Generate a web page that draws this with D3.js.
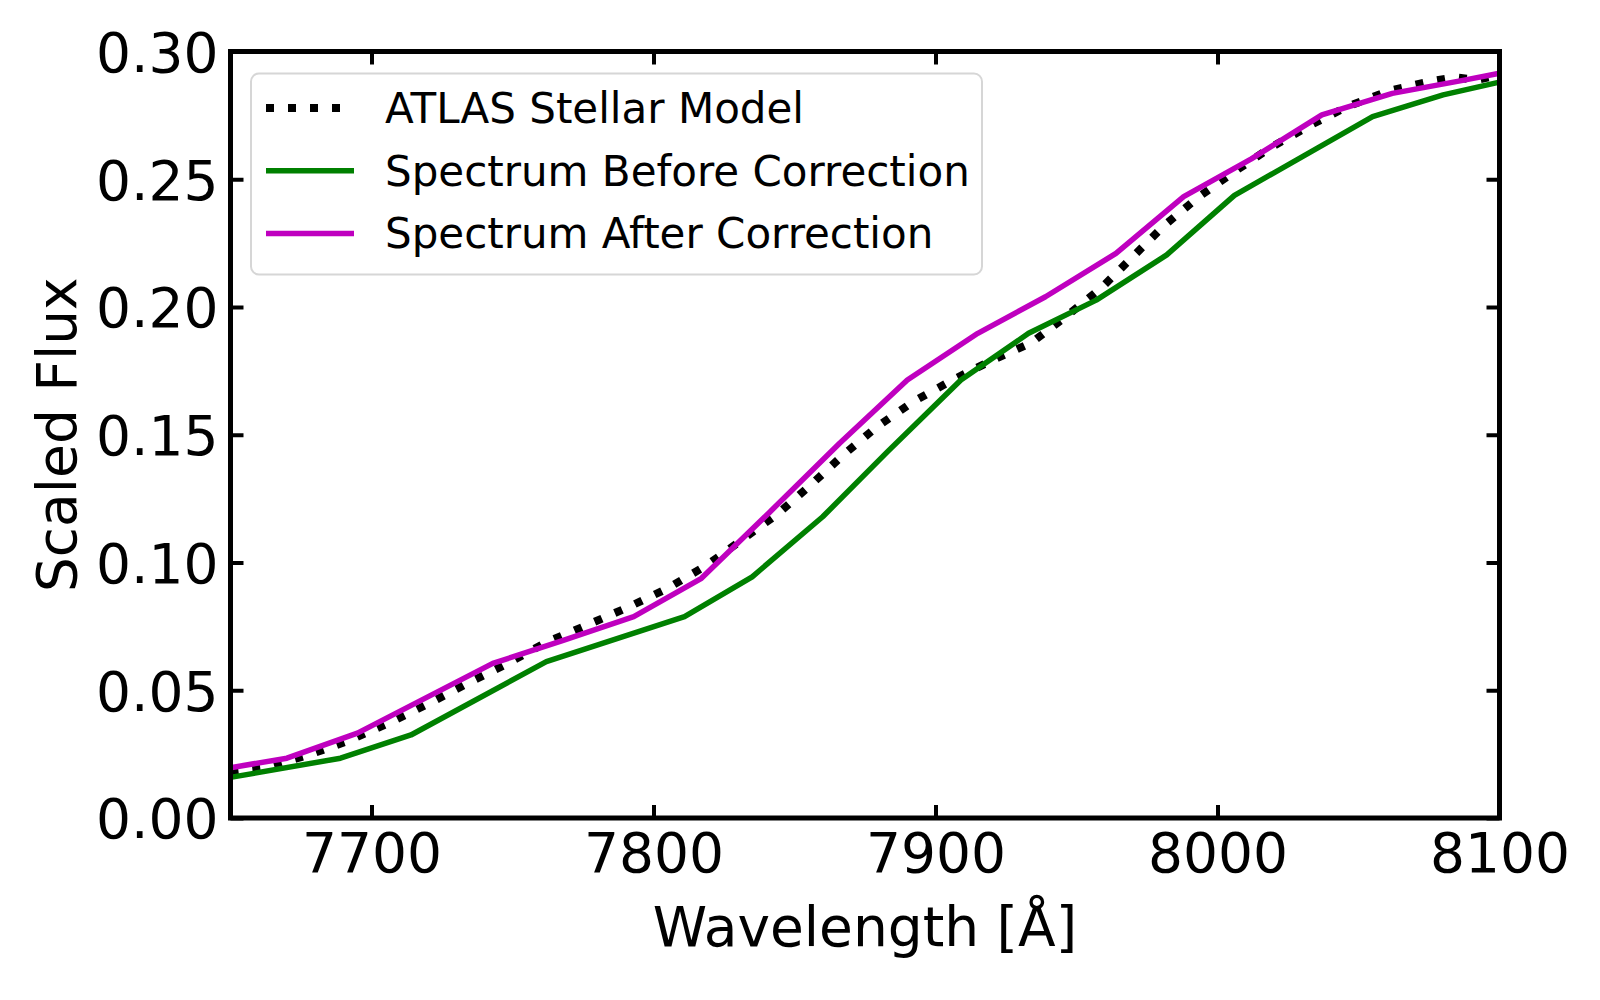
<!DOCTYPE html>
<html>
<head>
<meta charset="utf-8">
<script src="https://cdn.jsdelivr.net/npm/d3@7"></script>
<style>
  html, body { margin: 0; padding: 0; background: #fff; }
  svg { display: block; }
  svg text { font-family: "DejaVu Sans", sans-serif; }
</style>
</head>
<body>
<div id="chart"></div>
<script>
// Wavelength [Å] / scaled flux.
const modelWave = [7650, 7662, 7677, 7692, 7706, 7720, 7734, 7748, 7762, 7776, 7791, 7805, 7819, 7831,
  7844, 7856, 7867, 7879, 7892, 7906, 7919, 7934, 7947, 7959, 7970, 7981, 7993, 8006, 8019, 8033,
  8046, 8061, 8076, 8084, 8092, 8100];
const modelFlux = [0.0181, 0.0198, 0.0244, 0.0303, 0.0371, 0.0446, 0.0527, 0.0603, 0.0688, 0.0753,
  0.0825, 0.0899, 0.0990, 0.1086, 0.1190, 0.1306, 0.1418, 0.1529, 0.1629, 0.1714, 0.1786, 0.1860,
  0.1969, 0.2077, 0.2197, 0.2318, 0.2428, 0.2530, 0.2625, 0.2712, 0.2784, 0.2847, 0.2884, 0.2899,
  0.2889, 0.2908];

const beforeWave = [7650, 7689, 7714, 7762, 7811, 7835, 7860, 7883, 7909, 7933, 7957, 7982, 8006,
  8055, 8080, 8100];
const beforeFlux = [0.0159, 0.0234, 0.0325, 0.0612, 0.0788, 0.0944, 0.1179, 0.1434, 0.1714, 0.1897,
  0.2027, 0.2204, 0.2437, 0.2745, 0.2830, 0.2880];

const afterWave = [7650, 7670, 7695, 7743, 7768, 7793, 7817, 7841, 7866, 7890, 7915, 7939, 7964,
  7988, 8012, 8037, 8062, 8087, 8100];
const afterFlux = [0.0197, 0.0234, 0.0332, 0.0605, 0.0695, 0.0788, 0.0938, 0.1195, 0.1467, 0.1714,
  0.1897, 0.2040, 0.2210, 0.2432, 0.2580, 0.2752, 0.2836, 0.2887, 0.2915];

const xTicks = [7700, 7800, 7900, 8000, 8100];
const yTicks = [0, 0.05, 0.10, 0.15, 0.20, 0.25, 0.30];

const seriesNames = ["ATLAS Stellar Model", "Spectrum Before Correction", "Spectrum After Correction"];

(() => {
  "use strict";

  const W = 1600, H = 1000;
  const m = { left: 230.5, right: 100.5, top: 51.5, bottom: 182 };
  const iw = W - m.left - m.right;
  const ih = H - m.top - m.bottom;
  const FONT = 55;
  const FAMILY = '"DejaVu Sans", sans-serif';

  const series = [
    { name: seriesNames[0], wave: modelWave, flux: modelFlux, color: "#000", width: 8, dash: "8 14" },
    { name: seriesNames[1], wave: beforeWave, flux: beforeFlux, color: "#008000", width: 5.5, dash: null },
    { name: seriesNames[2], wave: afterWave, flux: afterFlux, color: "#bf00bf", width: 5.5, dash: null },
  ];

  const x = d3.scaleLinear().domain([7650, 8100]).range([0, iw]);
  const y = d3.scaleLinear().domain([0, 0.30]).range([ih, 0]);

  const svg = d3.select("#chart").append("svg").attr("width", W).attr("height", H);
  svg.append("defs").append("clipPath").attr("id", "plot-clip")
    .append("rect").attr("width", iw).attr("height", ih);

  const g = svg.append("g").attr("transform", `translate(${m.left},${m.top})`);

  // lines
  const line = d3.line().x((d) => x(d[0])).y((d) => y(d[1]));
  const plot = g.append("g").attr("clip-path", "url(#plot-clip)");
  series.forEach((s) => {
    plot.append("path")
      .datum(s.wave.map((w, i) => [w, s.flux[i]]))
      .attr("d", line)
      .attr("fill", "none")
      .attr("stroke", s.color)
      .attr("stroke-width", s.width)
      .attr("stroke-dasharray", s.dash)
      .attr("stroke-linejoin", "round");
  });

  // axes, ticks pointing inward on all four sides
  const TL = 13;
  const styleAxis = (sel) => {
    sel.attr("font-family", FAMILY).attr("font-size", FONT);
    sel.select(".domain").remove();
    sel.selectAll(".tick line").attr("stroke", "#000").attr("stroke-width", 4);
    sel.selectAll("text").attr("fill", "#000").style("font-size", FONT + "px").style("font-family", FAMILY);
  };

  g.append("g").attr("transform", `translate(0,${ih})`)
    .call(d3.axisBottom(x).tickValues(xTicks).tickFormat(d3.format("d")).tickSizeInner(-TL).tickSizeOuter(0))
    .call(styleAxis)
    .call((a) => a.selectAll("text").attr("y", 54).attr("dy", null));

  g.append("g")
    .call(d3.axisLeft(y).tickValues(yTicks).tickFormat(d3.format(".2f")).tickSizeInner(-TL).tickSizeOuter(0))
    .call(styleAxis)
    .call((a) => a.selectAll("text").attr("x", -12).attr("dy", "0.36em"));

  g.append("g")
    .call(d3.axisTop(x).tickValues(xTicks).tickFormat("").tickSizeInner(-TL).tickSizeOuter(0))
    .call(styleAxis);

  g.append("g").attr("transform", `translate(${iw},0)`)
    .call(d3.axisRight(y).tickValues(yTicks).tickFormat("").tickSizeInner(-TL).tickSizeOuter(0))
    .call(styleAxis);

  // frame
  g.append("rect").attr("width", iw).attr("height", ih)
    .attr("fill", "none").attr("stroke", "#000").attr("stroke-width", 5);

  // axis titles
  svg.append("text")
    .attr("x", m.left + iw / 2).attr("y", 946)
    .attr("text-anchor", "middle").style("font-size", FONT + "px")
    .text("Wavelength [Å]");

  svg.append("text")
    .attr("transform", `translate(76,${m.top + ih / 2}) rotate(-90)`)
    .attr("text-anchor", "middle").style("font-size", FONT + "px")
    .text("Scaled Flux");

  // legend
  const lg = svg.append("g").attr("transform", "translate(251,73.5)");
  lg.append("rect").attr("width", 731).attr("height", 201).attr("rx", 8)
    .attr("fill", "#fff").attr("fill-opacity", 0.8)
    .attr("stroke", "#d6d6d6").attr("stroke-width", 2);

  series.forEach((s, i) => {
    const cy = 34.5 + i * 62.7;
    lg.append("line")
      .attr("x1", 15).attr("x2", 103).attr("y1", cy).attr("y2", cy)
      .attr("stroke", s.color).attr("stroke-width", s.width)
      .attr("stroke-dasharray", s.dash);
    lg.append("text")
      .attr("x", 134).attr("y", cy + 15)
      .style("font-size", "42px")
      .text(s.name);
  });
})();
</script>
</body>
</html>
